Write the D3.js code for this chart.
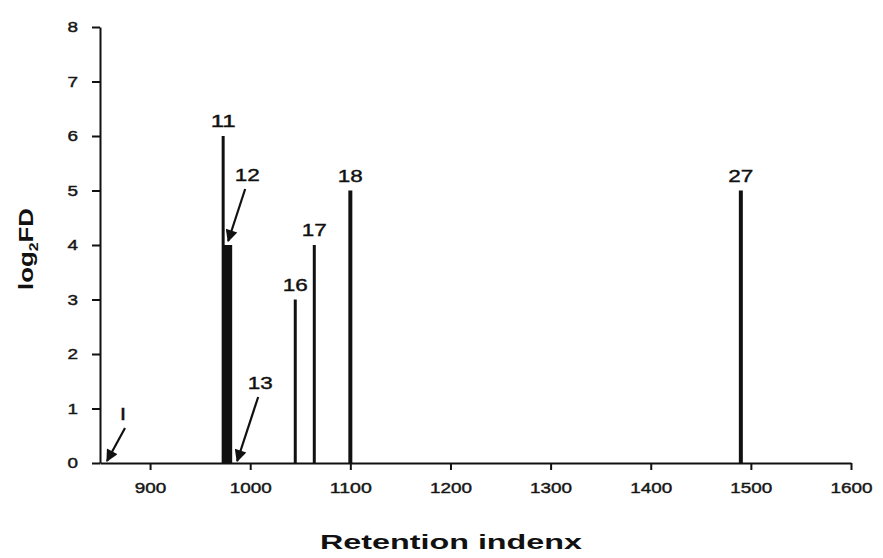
<!DOCTYPE html>
<html>
<head>
<meta charset="utf-8">
<script src="https://cdn.jsdelivr.net/npm/d3@7"></script>
<style>
  html, body { margin: 0; padding: 0; background: #fff; }
  svg { display: block; }
  text { font-family: "Liberation Sans", Arial, sans-serif; fill: #111; }
</style>
</head>
<body>
<svg id="chart" width="883" height="558"></svg>
<script>
// Aroma extract dilution analysis: odorant peaks by retention index
const peakRI    = [973, 974, 977, 980, 1045, 1064, 1100, 1490];
const peakFD    = [6,   4,   4,   4,   3,    4,    5,    5];
// numbered labels drawn directly above a peak
const labelIds  = ["11", "16", "17", "18", "27"];
const labelRI   = [973, 1045, 1064, 1100, 1490];
const labelFD   = [6,   3,    4,    5,    5];
// numbered labels pointed at with an arrow
const arrowIds  = ["I", "12", "13"];
const arrowRI   = [857, 978, 987];
const arrowFD   = [0,   4,   0];
const xTicks    = [900, 1000, 1100, 1200, 1300, 1400, 1500, 1600];
const yTicks    = [0, 1, 2, 3, 4, 5, 6, 7, 8];

const svg = d3.select("#chart");
const x = d3.scaleLinear().domain([850, 1600]).range([100, 851]);
const y = d3.scaleLinear().domain([0, 8]).range([463, 27]);

// filled arrowhead
svg.append("defs").append("marker")
  .attr("id", "head")
  .attr("viewBox", "0 0 10 10")
  .attr("refX", 9).attr("refY", 5)
  .attr("markerWidth", 6.5).attr("markerHeight", 5.5)
  .attr("orient", "auto")
  .append("path").attr("d", "M0,0 L10,5 L0,10 Z").attr("fill", "#111");

// wide digit glyphs: stretch each label to a fixed advance per character
const widen = (sel, perChar) =>
  sel.attr("textLength", function () { return this.textContent.length * perChar; })
     .attr("lengthAdjust", "spacingAndGlyphs");

// axes
const xAxis = svg.append("g")
  .attr("transform", `translate(0,${y(0)})`)
  .call(d3.axisBottom(x).tickValues(xTicks).tickFormat(d3.format("d"))
    .tickSize(7).tickPadding(12).tickSizeOuter(0));
const yAxis = svg.append("g")
  .attr("transform", `translate(${x(850)},0)`)
  .call(d3.axisLeft(y).tickValues(yTicks).tickSize(8).tickPadding(14).tickSizeOuter(0));

[xAxis, yAxis].forEach(g => {
  g.select(".domain").attr("stroke", "#111").attr("stroke-width", 2);
  g.selectAll(".tick line").attr("stroke", "#111").attr("stroke-width", 2);
  g.selectAll(".tick text")
    .attr("font-size", 15)
    .attr("fill", "#222")
    .attr("stroke", "#222").attr("stroke-width", 0.45);
  widen(g.selectAll(".tick text"), 10.5);
});

// peaks
svg.append("g").selectAll("line")
  .data(peakRI.map((r, i) => ({ ri: r, fd: peakFD[i] })))
  .join("line")
  .attr("x1", d => x(d.ri)).attr("x2", d => x(d.ri))
  .attr("y1", y(0)).attr("y2", d => y(d.fd))
  .attr("stroke", "#111")
  .attr("stroke-width", d => d.ri >= 1100 ? 4 : (d.fd === 4 && d.ri < 1000 ? 4 : 3));

// labels above peaks
widen(svg.append("g").selectAll("text")
  .data(labelIds.map((t, i) => ({ t, ri: labelRI[i], fd: labelFD[i] })))
  .join("text")
  .attr("x", d => x(d.ri))
  .attr("y", d => y(d.fd) - 9)
  .attr("text-anchor", "middle")
  .attr("font-size", 17)
  .attr("stroke", "#111").attr("stroke-width", 0.4)
  .text(d => d.t), 12.5);

// arrow annotations: tail offset from the tip
const arrowOffsets = [[18, -33], [17, -52], [21, -64]];
const ann = svg.append("g");
arrowIds.forEach((t, i) => {
  const tx = x(arrowRI[i]);
  const ty = y(arrowFD[i]) - (arrowFD[i] === 0 ? 2 : 4);
  const [dx, dy] = arrowOffsets[i];
  ann.append("line")
    .attr("x1", tx + dx).attr("y1", ty + dy)
    .attr("x2", tx).attr("y2", ty)
    .attr("stroke", "#111").attr("stroke-width", 2.2)
    .attr("marker-end", "url(#head)");
  const lab = ann.append("text")
    .attr("x", tx + dx + (t === "I" ? -2 : 2))
    .attr("y", ty + dy - 8)
    .attr("text-anchor", "middle")
    .attr("font-size", t === "I" ? 16 : 17)
    .attr("font-family", t === "I" ? "Liberation Serif, serif" : null)
    .attr("font-weight", t === "I" ? "bold" : null)
    .attr("stroke", "#111").attr("stroke-width", t === "I" ? 0.3 : 0.4)
    .text(t);
  if (t !== "I") widen(lab, 12.5);
});

// axis titles
svg.append("text")
  .attr("x", 451).attr("y", 549)
  .attr("text-anchor", "middle")
  .attr("font-size", 21).attr("font-weight", "bold")
  .attr("textLength", 262).attr("lengthAdjust", "spacingAndGlyphs")
  .text("Retention indenx");

const yt = svg.append("text")
  .attr("transform", "translate(33,249) rotate(-90)")
  .attr("text-anchor", "middle")
  .attr("font-size", 21).attr("font-weight", "bold")
  .attr("textLength", 82).attr("lengthAdjust", "spacingAndGlyphs");
yt.append("tspan").text("log");
yt.append("tspan").attr("font-size", 13).attr("dy", 5).text("2");
yt.append("tspan").attr("dy", -5).text("FD");
</script>
</body>
</html>
